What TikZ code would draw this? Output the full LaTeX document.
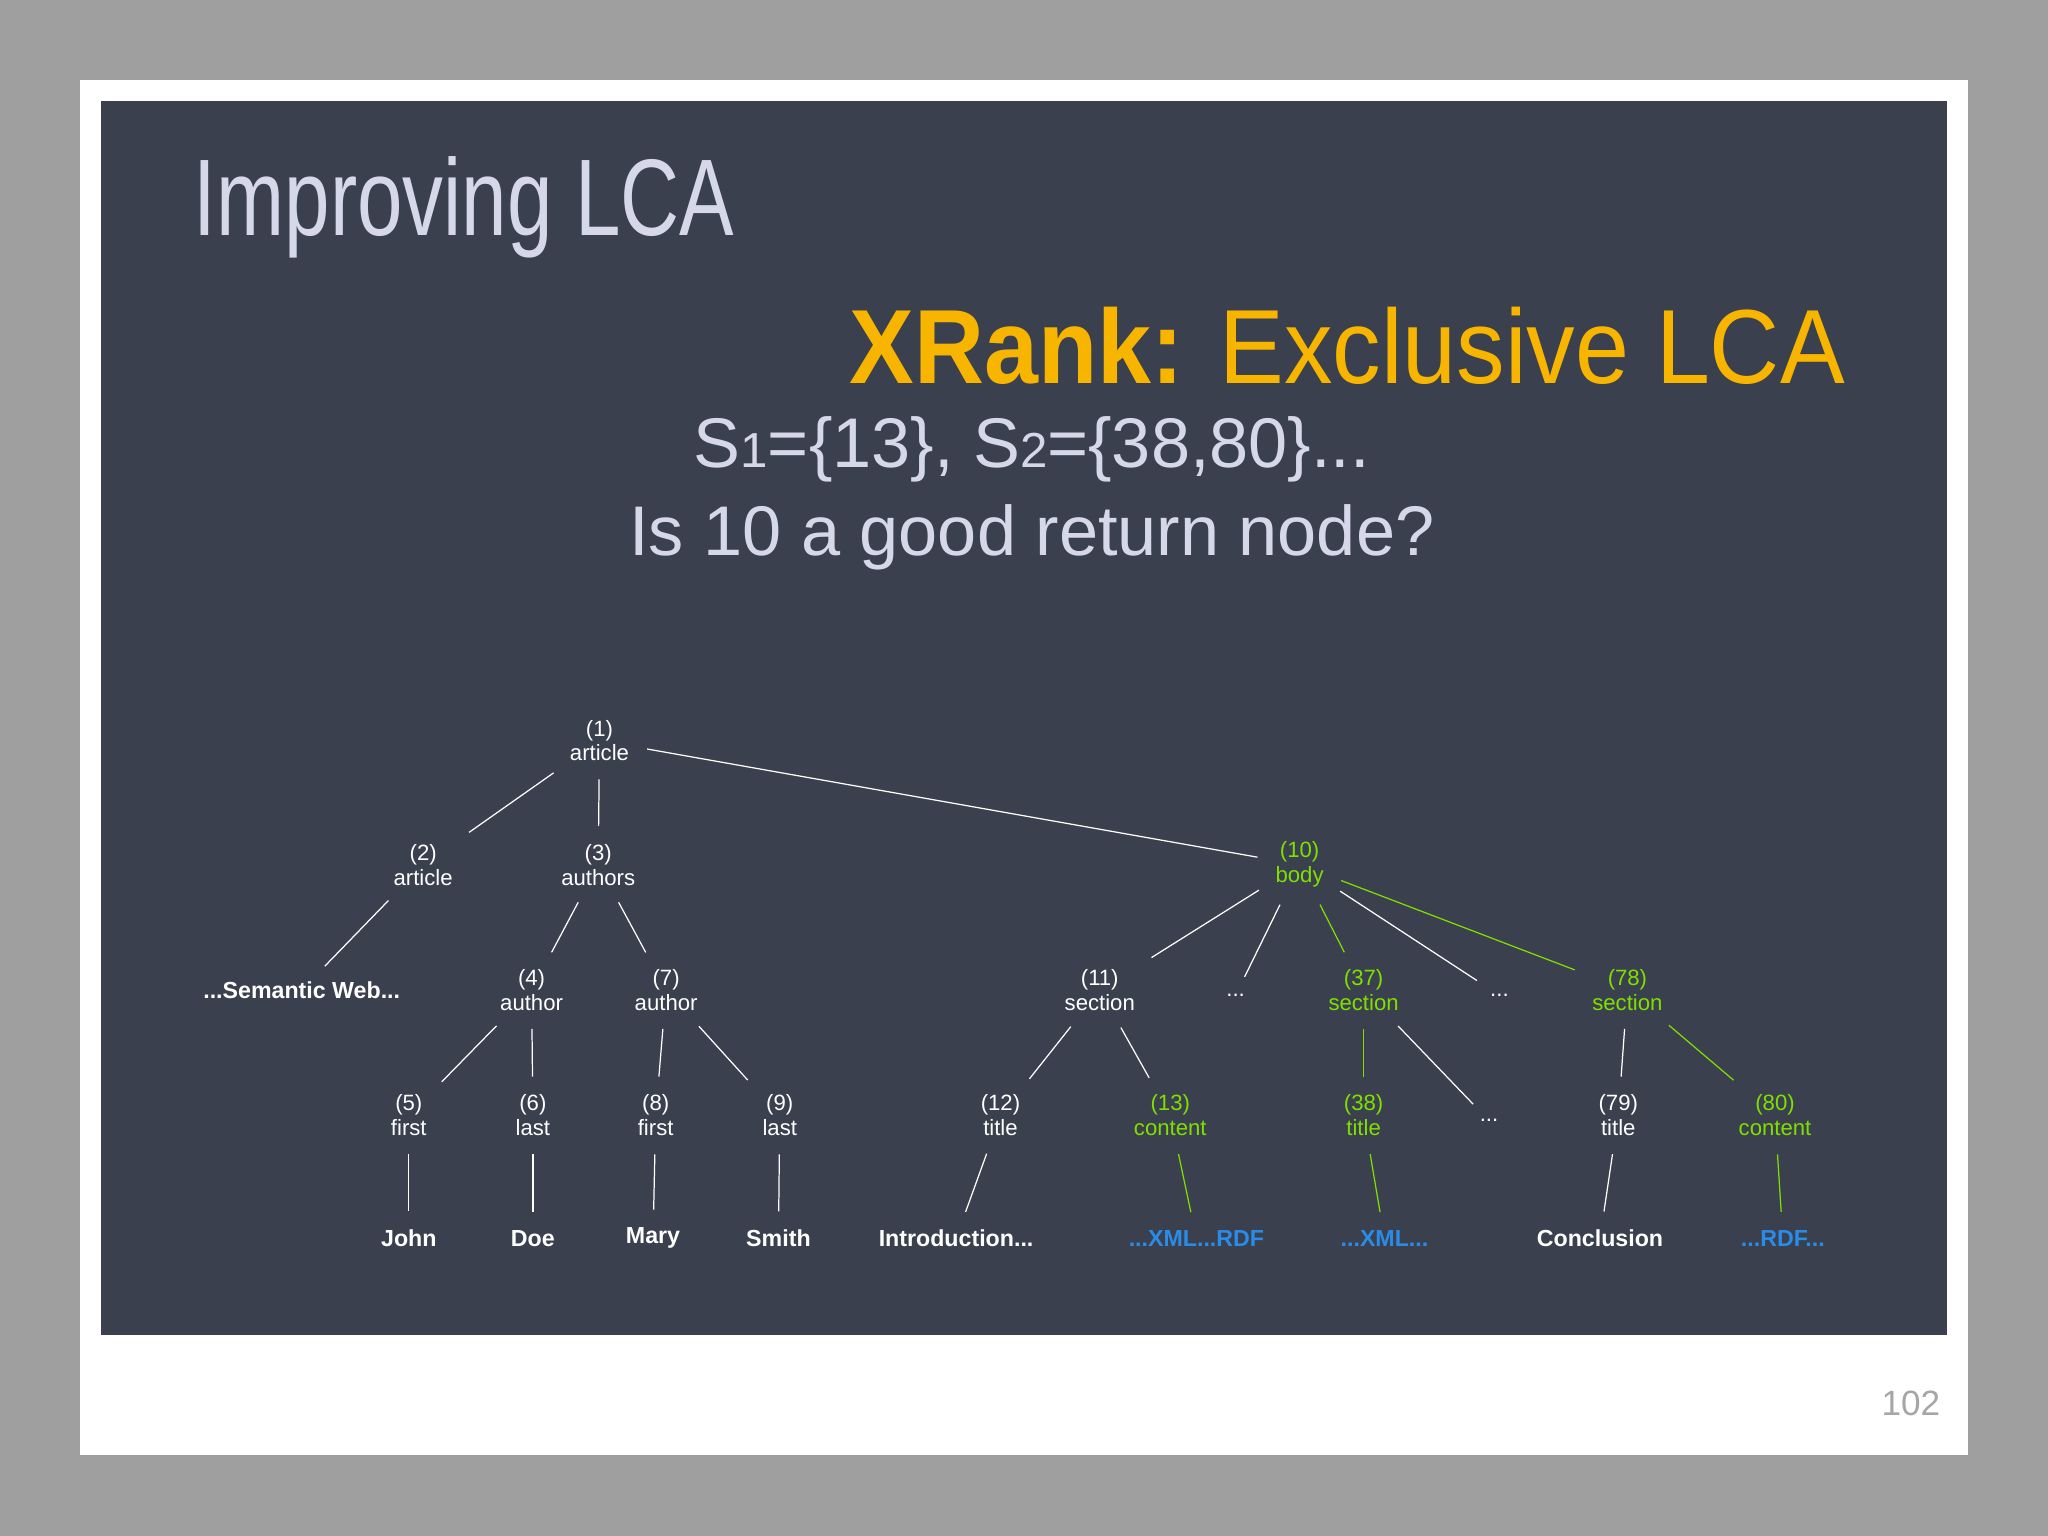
\documentclass[tikz,border=0pt]{standalone}
\usepackage{fontspec}
\setmainfont{Liberation Sans}
\definecolor{panel}{HTML}{3A404E}
\definecolor{hitgreen}{HTML}{7FE000}
\definecolor{hitblue}{HTML}{2A8CE8}
\definecolor{xgold}{HTML}{F7B500}
\definecolor{titlecol}{HTML}{D6D8EA}
\tikzset{
  lbl/.style={align=center, text=white, font=\fontsize{6.3}{7.1}\selectfont, inner sep=2pt},
  hit/.style={lbl, text=hitgreen},
  leaf/.style={lbl, font=\fontsize{6.6}{7.5}\selectfont\bfseries},
  hitleaf/.style={leaf, text=hitblue},
  edge/.style={draw=white, line width=0.35pt, shorten >=3pt, shorten <=3pt},
  hitedge/.style={edge, draw=hitgreen}
}
\begin{document}
\begin{tikzpicture}[x=0.013061cm, y=-0.013061cm]
\useasboundingbox (0,0) rectangle (1568,1176);
% slide
\fill[gray!75] (0,0) rectangle (1568,1176);
\fill[white] (61,61) rectangle (1507,1114);
\fill[panel] (77,77) rectangle (1491,1022);
\node[anchor=base west, text=titlecol, font=\fontsize{31}{31}\selectfont, xscale=0.75, inner sep=0] (title) at (148,180) {Improving LCA};
\node[anchor=base east, text=xgold, font=\fontsize{30}{30}\selectfont, xscale=0.92, inner sep=0] (sub) at (1413,294) {\textbf{XRank:} Exclusive LCA};
\node[anchor=base, text=titlecol, font=\fontsize{20}{20}\selectfont, inner sep=0] (sets) at (790,358) {S{\fontsize{14}{14}\selectfont 1}=\{13\}, S{\fontsize{14}{14}\selectfont 2}=\{38,80\}...};
\node[anchor=base, text=titlecol, font=\fontsize{20}{20}\selectfont, inner sep=0] (quest) at (790,425) {Is 10 a good return node?};
\node[anchor=base east, text=gray!70, font=\fontsize{10}{10}\selectfont, inner sep=0] (page) at (1486,1084) {102};

% tree
\node[lbl] (n1) at (459,567) {(1)\\article};
\node[lbl] (n2) at (324,662) {(2)\\article};
\node[lbl] (n3) at (458,662) {(3)\\authors};
\node[hit] (n10) at (995,662) {(10)\\body};
\node[leaf] (sw) at (231,758) {...Semantic Web...};
\node[lbl] (n4) at (407,758) {(4)\\author};
\node[lbl] (n7) at (510,758) {(7)\\author};
\node[lbl] (n11) at (842,758) {(11)\\section};
\node[lbl] (d1) at (946,762) {...};
\node[hit] (n37) at (1044,758) {(37)\\section};
\node[lbl] (d2) at (1148,762) {...};
\node[hit] (n78) at (1246,758) {(78)\\section};
\node[lbl] (n5) at (313,854) {(5)\\first};
\node[lbl] (n6) at (408,854) {(6)\\last};
\node[lbl] (n8) at (502,854) {(8)\\first};
\node[lbl] (n9) at (597,854) {(9)\\last};
\node[lbl] (n12) at (766,854) {(12)\\title};
\node[hit] (n13) at (896,854) {(13)\\content};
\node[hit] (n38) at (1044,854) {(38)\\title};
\node[lbl] (d3) at (1140,858) {...};
\node[lbl] (n79) at (1239,854) {(79)\\title};
\node[hit] (n80) at (1359,854) {(80)\\content};
\node[leaf] (john) at (313,948) {John};
\node[leaf] (doe) at (408,948) {Doe};
\node[leaf] (mary) at (500,948) {Mary};
\node[leaf] (smith) at (596,948) {Smith};
\node[leaf] (intro) at (732,948) {Introduction...};
\node[hitleaf] (xr) at (916,948) {...XML...RDF};
\node[hitleaf] (xml) at (1060,948) {...XML...};
\node[leaf] (concl) at (1225,948) {Conclusion};
\node[hitleaf] (rdf) at (1365,948) {...RDF...};

\foreach \a/\b in {n1/n2, n1/n3, n1/n10, n2/sw, n3/n4, n3/n7, n4/n5, n4/n6, n7/n8, n7/n9,
  n5/john, n6/doe, n8/mary, n9/smith, n10/n11, n10/d1, n10/d2, n11/n12, n11/n13,
  n37/d3, n78/n79, n12/intro, n79/concl}
  \draw[edge] (\a) -- (\b);
\foreach \a/\b in {n10/n37, n10/n78, n37/n38, n78/n80, n13/xr, n38/xml, n80/rdf}
  \draw[hitedge] (\a) -- (\b);
\end{tikzpicture}
\end{document}
